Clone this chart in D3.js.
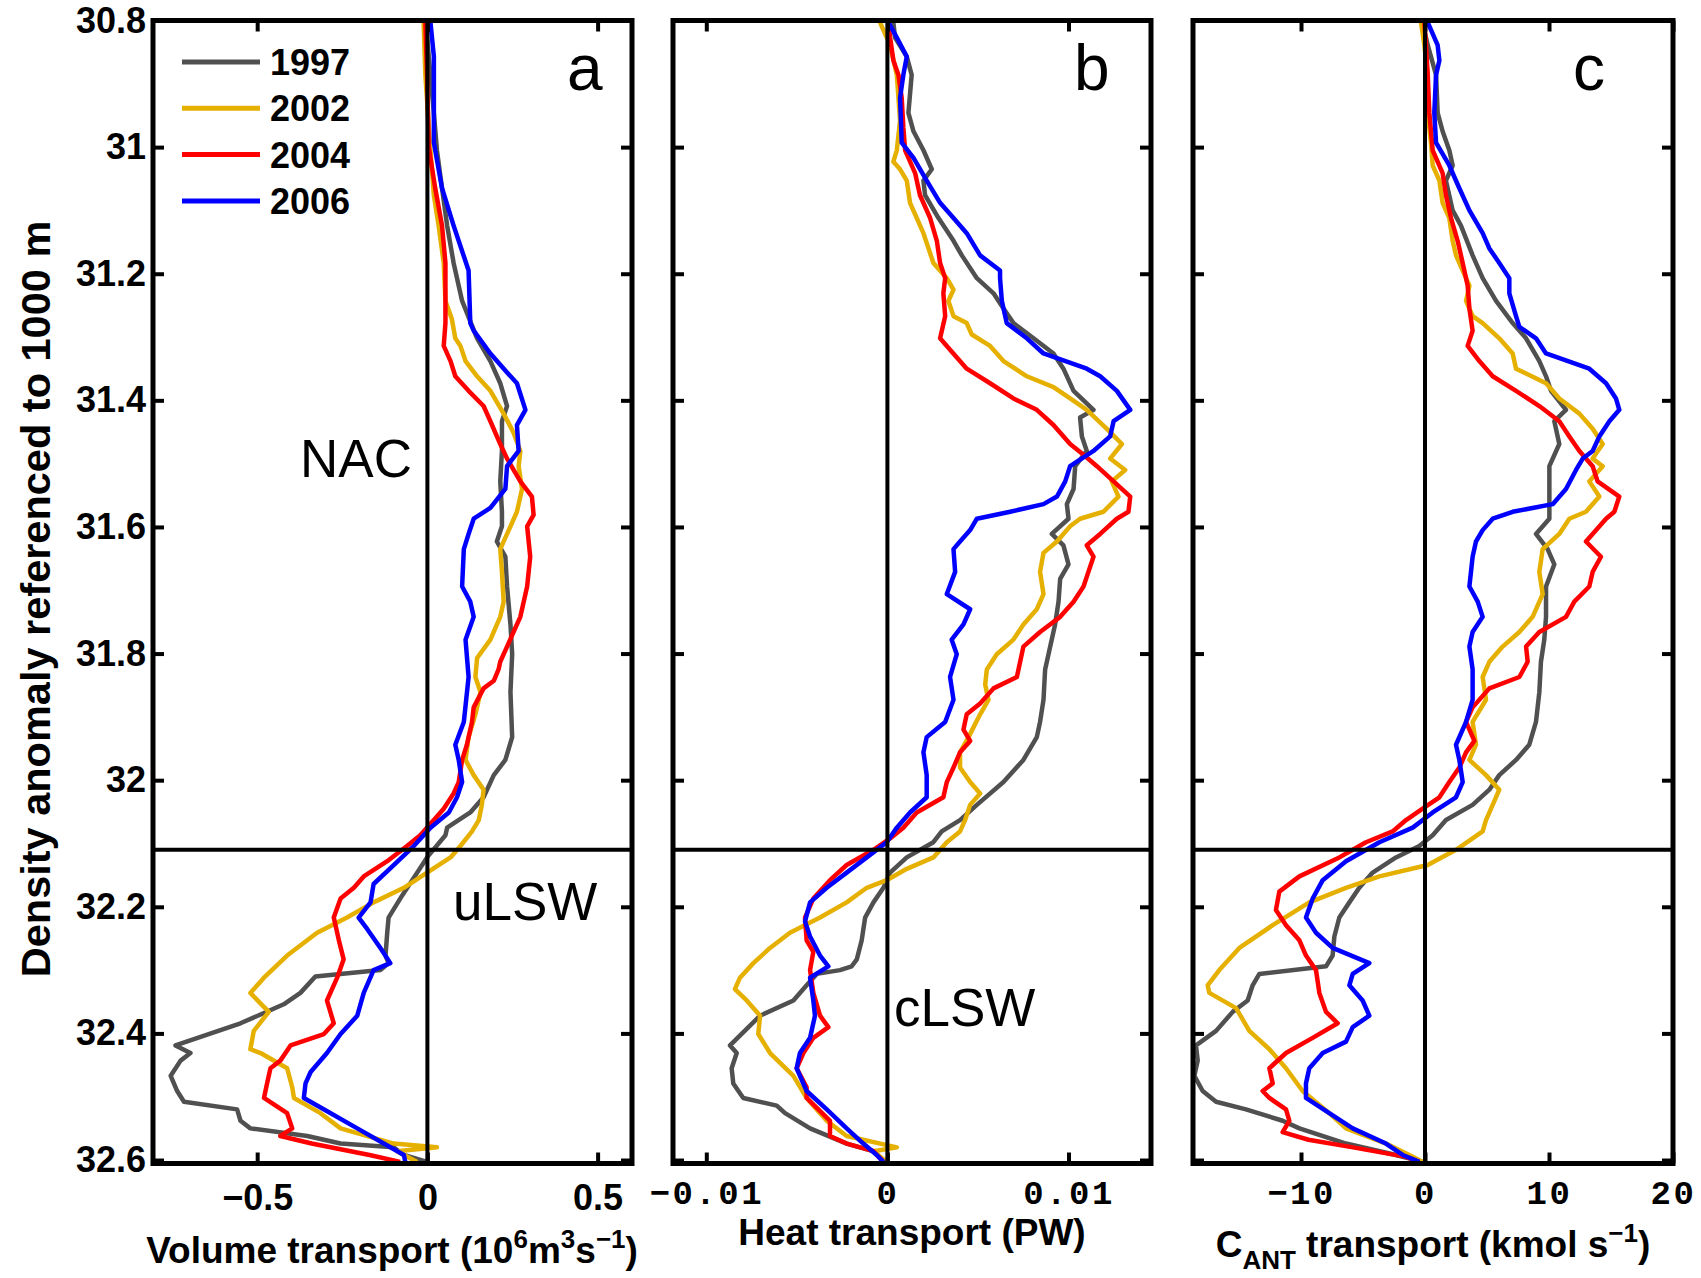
<!DOCTYPE html>
<html>
<head>
<meta charset="utf-8">
<script src="https://cdn.jsdelivr.net/npm/d3@7/dist/d3.min.js"></script>
<style>
	body { margin: 0; background: #fff; }
	svg text { font-family: "Liberation Sans", Arial, Helvetica, sans-serif; }
</style>
</head>
<body>
<div id="chart"></div>
<script>
var years = ["1997", "2002", "2004", "2006"];
var colors = ["#505050", "#e6b000", "#ff0000", "#0000ff"];

var densityTicks = [30.8, 31, 31.2, 31.4, 31.6, 31.8, 32, 32.2, 32.4, 32.6];
var volTicks = [-0.5, 0, 0.5];
var heatTicks = [-0.01, 0, 0.01];
var cantTicks = [-10, 0, 10, 20];
var boundary = 32.11; // NAC / LSW interface

// volume transport (Sv) : [density, transport]
var vol1997 = [[30.803,-0.005],[30.946,0.019],[31.005,0.028],[31.065,0.043],[31.124,0.058],[31.183,0.077],[31.243,0.102],[31.302,0.146],[31.338,0.185],[31.373,0.214],[31.409,0.234],[31.433,0.219],[31.480,0.219],[31.528,0.214],[31.576,0.219],[31.599,0.219],[31.623,0.204],[31.647,0.229],[31.694,0.234],[31.754,0.244],[31.801,0.249],[31.861,0.244],[31.932,0.249],[31.968,0.229],[31.992,0.195],[32.027,0.165],[32.051,0.126],[32.075,0.058],[32.087,0.053],[32.122,-0.001],[32.146,-0.030],[32.182,-0.074],[32.217,-0.114],[32.241,-0.118],[32.277,-0.123],[32.289,-0.114],[32.300,-0.138],[32.310,-0.329],[32.336,-0.373],[32.354,-0.422],[32.384,-0.549],[32.419,-0.740],[32.431,-0.696],[32.443,-0.725],[32.467,-0.754],[32.491,-0.735],[32.508,-0.715],[32.520,-0.559],[32.538,-0.549],[32.550,-0.520],[32.562,-0.353],[32.574,-0.255],[32.580,-0.099],[32.592,-0.069],[32.603,-0.001]];
var vol2002 = [[30.803,-0.011],[30.886,-0.006],[31.005,0.009],[31.076,0.019],[31.124,0.033],[31.183,0.048],[31.243,0.053],[31.272,0.072],[31.302,0.082],[31.314,0.097],[31.338,0.112],[31.362,0.146],[31.385,0.185],[31.421,0.224],[31.451,0.253],[31.480,0.273],[31.504,0.268],[31.540,0.278],[31.576,0.263],[31.599,0.244],[31.635,0.214],[31.671,0.219],[31.718,0.224],[31.742,0.214],[31.778,0.185],[31.807,0.146],[31.837,0.141],[31.861,0.156],[31.896,0.141],[31.932,0.121],[31.968,0.112],[31.992,0.136],[32.015,0.165],[32.039,0.160],[32.063,0.151],[32.081,0.131],[32.104,0.097],[32.122,0.068],[32.146,-0.001],[32.170,-0.069],[32.193,-0.158],[32.217,-0.236],[32.241,-0.324],[32.277,-0.412],[32.312,-0.480],[32.336,-0.520],[32.366,-0.466],[32.396,-0.510],[32.425,-0.520],[32.431,-0.490],[32.455,-0.412],[32.485,-0.397],[32.502,-0.392],[32.526,-0.314],[32.550,-0.255],[32.574,-0.099],[32.580,0.028],[32.586,-0.089],[32.603,-0.030]];
var vol2004 = [[30.803,-0.006],[30.886,-0.001],[30.999,0.004],[31.017,0.009],[31.065,0.023],[31.124,0.043],[31.183,0.053],[31.243,0.053],[31.278,0.053],[31.314,0.048],[31.338,0.068],[31.362,0.082],[31.385,0.121],[31.409,0.165],[31.433,0.185],[31.469,0.214],[31.492,0.234],[31.528,0.273],[31.552,0.307],[31.581,0.312],[31.599,0.293],[31.647,0.302],[31.694,0.293],[31.742,0.273],[31.766,0.253],[31.789,0.234],[31.813,0.214],[31.825,0.209],[31.843,0.195],[31.855,0.165],[31.885,0.136],[31.908,0.131],[31.944,0.116],[31.968,0.102],[32.003,0.092],[32.021,0.077],[32.045,0.048],[32.063,0.019],[32.087,-0.021],[32.104,-0.060],[32.128,-0.118],[32.152,-0.187],[32.170,-0.216],[32.187,-0.255],[32.217,-0.275],[32.253,-0.260],[32.283,-0.246],[32.312,-0.265],[32.348,-0.295],[32.384,-0.275],[32.401,-0.304],[32.419,-0.402],[32.443,-0.432],[32.455,-0.461],[32.479,-0.471],[32.502,-0.480],[32.526,-0.412],[32.550,-0.397],[32.562,-0.432],[32.574,-0.340],[32.592,-0.170],[32.603,-0.080]];
var vol2006 = [[30.803,0.009],[30.857,0.019],[30.993,0.019],[31.065,0.043],[31.124,0.077],[31.195,0.121],[31.278,0.126],[31.290,0.136],[31.326,0.185],[31.356,0.234],[31.373,0.263],[31.415,0.288],[31.439,0.263],[31.480,0.268],[31.504,0.234],[31.540,0.229],[31.570,0.185],[31.587,0.136],[31.611,0.121],[31.635,0.107],[31.694,0.102],[31.718,0.126],[31.742,0.136],[31.778,0.112],[31.837,0.121],[31.908,0.107],[31.944,0.082],[31.968,0.092],[32.003,0.102],[32.027,0.087],[32.051,0.063],[32.075,0.009],[32.104,-0.040],[32.134,-0.099],[32.164,-0.158],[32.193,-0.167],[32.217,-0.202],[32.235,-0.177],[32.265,-0.138],[32.289,-0.109],[32.300,-0.158],[32.336,-0.187],[32.372,-0.206],[32.401,-0.255],[32.431,-0.295],[32.461,-0.343],[32.479,-0.358],[32.502,-0.363],[32.514,-0.324],[32.550,-0.206],[32.574,-0.128],[32.592,-0.069],[32.603,-0.065]];

// heat transport (1e-3 PW) : [density, transport]
var heat1997 = [[30.803,0.33],[30.827,0.42],[30.857,1.07],[30.886,1.34],[30.946,1.16],[30.975,1.44],[31.005,1.99],[31.035,2.45],[31.053,1.99],[31.076,2.08],[31.112,2.82],[31.148,3.65],[31.171,4.11],[31.207,4.94],[31.231,5.86],[31.255,6.41],[31.278,6.96],[31.302,8.07],[31.326,9.17],[31.350,9.72],[31.385,10.28],[31.415,11.38],[31.427,10.64],[31.457,10.74],[31.480,11.01],[31.504,10.37],[31.540,10.28],[31.564,9.91],[31.587,10.00],[31.611,9.08],[31.629,9.72],[31.659,10.00],[31.682,9.54],[31.718,9.45],[31.754,9.26],[31.789,8.99],[31.825,8.71],[31.873,8.62],[31.908,8.43],[31.932,8.25],[31.968,7.51],[32.003,6.41],[32.039,4.94],[32.063,4.01],[32.081,3.00],[32.098,2.54],[32.122,1.07],[32.146,0.15],[32.170,-0.22],[32.193,-0.77],[32.217,-1.23],[32.253,-1.42],[32.283,-1.69],[32.294,-1.97],[32.300,-2.62],[32.306,-3.90],[32.324,-4.46],[32.348,-5.19],[32.372,-7.03],[32.419,-8.69],[32.431,-8.32],[32.455,-8.60],[32.479,-8.51],[32.502,-7.96],[32.514,-6.11],[32.526,-5.65],[32.550,-4.27],[32.574,-2.25],[32.586,-0.77],[32.603,-0.13]];
var heat2002 = [[30.803,-0.41],[30.839,0.15],[30.886,0.52],[30.922,0.61],[30.958,0.70],[31.005,0.52],[31.023,0.33],[31.035,0.70],[31.053,1.07],[31.088,1.25],[31.112,1.62],[31.136,1.99],[31.160,2.27],[31.183,2.54],[31.207,3.28],[31.225,3.65],[31.243,3.37],[31.267,3.65],[31.278,4.38],[31.296,4.66],[31.314,5.67],[31.338,6.41],[31.362,7.70],[31.379,9.17],[31.397,10.09],[31.415,11.01],[31.445,12.12],[31.469,12.95],[31.492,12.30],[31.510,13.13],[31.528,12.39],[31.552,12.76],[31.576,11.93],[31.587,10.64],[31.599,10.09],[31.623,9.36],[31.641,8.62],[31.671,8.43],[31.706,8.62],[31.730,8.25],[31.754,7.51],[31.778,6.96],[31.801,6.04],[31.825,5.49],[31.849,5.40],[31.873,5.58],[31.896,5.12],[31.932,4.48],[31.956,4.01],[31.980,4.01],[32.003,4.57],[32.021,5.12],[32.039,4.57],[32.063,4.29],[32.081,4.01],[32.098,3.28],[32.122,2.54],[32.140,1.07],[32.158,-0.04],[32.170,-1.14],[32.193,-2.25],[32.217,-3.72],[32.241,-5.38],[32.265,-6.48],[32.289,-7.40],[32.312,-8.14],[32.330,-8.42],[32.348,-7.77],[32.372,-7.03],[32.401,-7.13],[32.431,-6.48],[32.467,-5.19],[32.502,-4.46],[32.538,-3.35],[32.562,-2.25],[32.580,0.52],[32.586,-0.77],[32.603,-0.04]];
var heat2004 = [[30.803,0.06],[30.827,0.15],[30.863,0.33],[30.886,0.61],[30.922,0.79],[30.969,0.88],[31.005,0.98],[31.041,1.53],[31.076,1.80],[31.112,2.36],[31.148,2.73],[31.183,2.91],[31.207,3.19],[31.231,3.09],[31.267,3.19],[31.302,2.91],[31.320,3.46],[31.350,4.38],[31.373,5.67],[31.397,6.96],[31.415,8.25],[31.439,9.17],[31.469,10.09],[31.486,10.83],[31.504,11.57],[31.528,12.49],[31.552,13.41],[31.576,13.31],[31.587,12.67],[31.611,11.75],[31.629,11.01],[31.647,11.38],[31.671,11.10],[31.694,10.83],[31.718,10.28],[31.742,9.54],[31.766,8.43],[31.789,7.51],[31.813,7.33],[31.837,7.15],[31.855,5.86],[31.879,5.12],[31.896,4.38],[31.920,4.20],[31.938,4.57],[31.956,4.01],[31.980,3.65],[32.003,3.28],[32.027,3.09],[32.051,1.62],[32.075,0.88],[32.092,0.15],[32.110,-0.77],[32.134,-2.25],[32.158,-3.17],[32.187,-4.09],[32.217,-4.55],[32.253,-4.46],[32.271,-4.09],[32.300,-4.27],[32.336,-4.09],[32.372,-3.72],[32.390,-3.26],[32.407,-4.09],[32.431,-4.64],[32.455,-5.01],[32.485,-4.46],[32.502,-4.46],[32.538,-3.17],[32.562,-3.17],[32.574,-2.25],[32.586,-0.77],[32.603,-0.22]];
var heat2006 = [[30.803,0.06],[30.827,0.52],[30.857,1.07],[30.886,0.88],[30.922,0.70],[30.993,0.79],[31.017,1.44],[31.053,2.17],[31.088,2.91],[31.112,3.65],[31.136,4.38],[31.171,5.12],[31.195,6.22],[31.207,6.22],[31.243,6.32],[31.278,6.59],[31.302,7.70],[31.326,8.62],[31.350,11.01],[31.362,11.75],[31.385,12.67],[31.415,13.41],[31.433,12.49],[31.457,12.30],[31.480,11.38],[31.504,10.09],[31.528,9.82],[31.552,9.36],[31.564,8.62],[31.576,6.78],[31.587,4.94],[31.605,4.57],[31.623,4.01],[31.635,3.65],[31.671,3.74],[31.706,3.28],[31.730,4.57],[31.754,4.20],[31.778,3.55],[31.801,3.83],[31.837,3.46],[31.873,3.65],[31.908,3.19],[31.932,2.17],[31.956,1.99],[31.992,2.17],[32.027,2.17],[32.051,1.25],[32.075,0.52],[32.098,-0.04],[32.122,-1.14],[32.146,-2.25],[32.170,-3.35],[32.193,-4.27],[32.223,-4.55],[32.247,-4.27],[32.277,-3.72],[32.294,-3.26],[32.312,-4.27],[32.348,-4.09],[32.372,-4.00],[32.407,-4.27],[32.431,-4.83],[32.455,-5.01],[32.491,-4.46],[32.520,-3.35],[32.550,-2.25],[32.574,-1.33],[32.592,-0.59],[32.603,-0.22]];

// anthropogenic carbon transport (kmol/s) : [density, transport]
var cant1997 = [[30.803,-0.19],[30.839,0.22],[30.886,0.89],[30.946,1.02],[30.975,1.42],[31.005,1.96],[31.029,2.23],[31.053,1.69],[31.100,2.23],[31.124,2.90],[31.171,3.84],[31.207,4.65],[31.243,5.73],[31.278,7.07],[31.302,8.15],[31.338,9.22],[31.362,9.76],[31.385,10.16],[31.415,11.37],[31.433,10.43],[31.469,10.83],[31.504,10.03],[31.540,10.03],[31.587,10.03],[31.611,8.95],[31.635,9.89],[31.659,10.43],[31.694,9.76],[31.742,9.76],[31.778,9.62],[31.813,9.35],[31.861,9.22],[31.908,8.95],[31.944,8.41],[31.968,7.34],[31.992,5.99],[32.015,5.19],[32.039,3.84],[32.063,1.69],[32.087,0.62],[32.104,-0.46],[32.122,-2.34],[32.146,-4.22],[32.170,-5.30],[32.193,-6.10],[32.217,-6.91],[32.247,-7.31],[32.277,-7.45],[32.294,-7.98],[32.306,-13.36],[32.324,-13.90],[32.348,-14.30],[32.366,-15.51],[32.396,-16.85],[32.419,-18.47],[32.443,-18.33],[32.467,-18.60],[32.491,-17.93],[32.508,-16.85],[32.520,-14.44],[32.538,-11.48],[32.550,-10.13],[32.574,-6.37],[32.592,-2.34],[32.603,-0.19]];
var cant2002 = [[30.803,-0.32],[30.839,-0.05],[30.886,0.22],[30.946,0.22],[30.993,0.48],[31.029,0.62],[31.053,1.16],[31.088,1.42],[31.112,1.96],[31.148,2.23],[31.171,2.50],[31.195,3.04],[31.219,3.58],[31.243,3.31],[31.267,3.84],[31.278,4.65],[31.302,5.99],[31.326,7.07],[31.350,7.34],[31.373,9.76],[31.397,10.83],[31.421,12.45],[31.445,13.52],[31.469,14.33],[31.492,13.52],[31.504,14.33],[31.528,13.25],[31.552,14.06],[31.576,12.98],[31.587,11.64],[31.611,10.83],[31.635,9.49],[31.671,9.22],[31.706,9.49],[31.742,8.68],[31.766,7.61],[31.789,6.26],[31.813,5.19],[31.837,4.65],[31.873,4.92],[31.908,3.84],[31.944,4.11],[31.968,3.58],[31.992,4.92],[32.015,5.99],[32.039,5.46],[32.063,4.92],[32.081,4.65],[32.110,2.50],[32.134,0.22],[32.152,-3.68],[32.170,-6.37],[32.193,-9.33],[32.229,-12.28],[32.265,-14.97],[32.300,-16.59],[32.324,-17.53],[32.336,-17.39],[32.360,-15.24],[32.396,-14.17],[32.425,-12.55],[32.455,-11.21],[32.491,-9.87],[32.526,-7.72],[32.550,-6.37],[32.574,-3.15],[32.592,-1.26],[32.603,-0.19]];
var cant2004 = [[30.803,-0.05],[30.839,0.08],[30.886,0.22],[30.946,0.35],[31.005,0.62],[31.041,1.42],[31.076,1.69],[31.112,2.10],[31.148,2.63],[31.183,3.04],[31.219,3.44],[31.255,3.58],[31.290,3.84],[31.314,3.44],[31.338,4.38],[31.362,5.46],[31.385,7.34],[31.409,9.22],[31.433,10.83],[31.457,11.64],[31.480,12.45],[31.504,13.52],[31.528,13.92],[31.552,15.67],[31.576,15.27],[31.587,14.60],[31.611,13.52],[31.623,12.98],[31.647,14.19],[31.671,13.52],[31.694,13.25],[31.718,12.04],[31.742,11.37],[31.766,9.22],[31.789,8.15],[31.813,8.28],[31.837,7.61],[31.855,5.19],[31.885,3.84],[31.908,3.31],[31.938,3.98],[31.956,3.31],[31.980,2.77],[32.003,1.96],[32.027,1.16],[32.045,-0.19],[32.063,-1.53],[32.081,-2.61],[32.098,-4.76],[32.122,-6.91],[32.152,-10.13],[32.176,-11.75],[32.205,-12.02],[32.229,-11.21],[32.253,-10.13],[32.277,-9.60],[32.300,-8.79],[32.336,-8.52],[32.366,-7.98],[32.384,-7.04],[32.407,-9.06],[32.431,-11.21],[32.455,-12.55],[32.479,-12.28],[32.491,-13.09],[32.502,-12.55],[32.520,-11.21],[32.538,-10.94],[32.556,-11.48],[32.568,-9.40],[32.580,-5.80],[32.595,-1.53],[32.603,-0.46]];
var cant2006 = [[30.803,0.22],[30.839,1.02],[30.863,1.16],[30.886,0.89],[30.946,0.75],[30.993,0.89],[31.029,1.96],[31.065,2.77],[31.100,3.58],[31.136,4.65],[31.160,5.19],[31.183,5.99],[31.207,6.80],[31.231,6.80],[31.267,7.34],[31.284,7.61],[31.302,8.95],[31.326,9.76],[31.350,13.25],[31.373,14.60],[31.397,15.40],[31.415,15.67],[31.433,14.87],[31.457,14.06],[31.480,13.52],[31.492,12.72],[31.510,12.18],[31.540,11.37],[31.564,10.30],[31.576,7.07],[31.587,5.46],[31.605,4.65],[31.623,4.11],[31.647,3.84],[31.694,3.58],[31.718,4.25],[31.742,4.65],[31.766,3.84],[31.789,3.58],[31.825,3.84],[31.873,3.84],[31.908,3.31],[31.944,2.50],[31.968,2.77],[32.003,3.04],[32.027,2.50],[32.051,0.62],[32.075,-0.99],[32.098,-3.68],[32.128,-6.37],[32.158,-8.25],[32.187,-9.06],[32.217,-9.60],[32.241,-8.79],[32.265,-7.45],[32.289,-4.49],[32.306,-5.83],[32.324,-6.10],[32.348,-5.03],[32.372,-4.49],[32.390,-5.83],[32.413,-6.37],[32.431,-8.25],[32.455,-9.33],[32.479,-9.60],[32.502,-9.60],[32.526,-7.72],[32.550,-5.83],[32.574,-3.15],[32.592,-1.80],[32.603,-0.46]];

var W = 1701, H = 1278;
var boldFont = "'Liberation Sans', Arial, sans-serif";
var monoFont = "'Liberation Mono', 'Courier New', monospace";

var svg = d3.select("#chart").append("svg")
	.attr("width", W)
	.attr("height", H)
	.style("background", "#fff");

var y = d3.scaleLinear().domain([30.8, 32.6055]).range([20.5, 1163.5]);

var panels = [
	{id: "a", range: [153, 632], domain: [-0.806, 0.601], ticks: volTicks, series: [vol1997, vol2002, vol2004, vol2006],
		format: function(d) { return d == 0 ? "0" : (d < 0 ? "\u2212" : "") + Math.abs(d); }, font: boldFont, weight: "bold", size: 36, pad: 21, spacing: 0,
		letterX: 567, region: [{t: "NAC", x: 300, y: 477}, {t: "uLSW", x: 453, y: 920}]},
	{id: "b", range: [673, 1151], domain: [-0.011839, 0.014556], ticks: heatTicks, scale: 1000, series: [heat1997, heat2002, heat2004, heat2006],
		format: function(d) { return d == 0 ? "0" : (d < 0 ? "\u2212" : "") + Math.abs(d); }, font: monoFont, weight: "bold", size: 34, pad: 16, spacing: 2.5,
		letterX: 1074, region: [{t: "cLSW", x: 894, y: 1026}]},
	{id: "c", range: [1193, 1673], domain: [-18.71, 20], ticks: cantTicks, series: [cant1997, cant2002, cant2004, cant2006],
		format: function(d) { return d == 0 ? "0" : (d < 0 ? "\u2212" : "") + Math.abs(d); }, font: monoFont, weight: "bold", size: 34, pad: 16, spacing: 2.5,
		letterX: 1573, region: []}
];

function styleAxis(g, p, labels) {
	g.select(".domain").remove();
	g.selectAll(".tick line").attr("stroke", "#000").attr("stroke-width", 4);
	g.selectAll(".tick text")
		.attr("fill", "#000")
		.style("font-family", p.font)
		.style("font-weight", p.weight)
		.style("font-size", p.size + "px")
		.style("letter-spacing", (p.spacing || 0) + "px");
	if (!labels) g.selectAll(".tick text").remove();
}

function drawPanel(p, i) {
	var x = d3.scaleLinear().domain(p.domain).range(p.range);
	var k = p.scale || 1;
	var g = svg.append("g").attr("class", "panel panel-" + p.id);
	var line = d3.line()
		.x(function(d) { return x(d[1] / k); })
		.y(function(d) { return y(d[0]); });

	p.series.forEach(function(s, j) {
		g.append("path")
			.datum(s)
			.attr("d", line)
			.attr("fill", "none")
			.attr("stroke", colors[j])
			.attr("stroke-width", 4.5)
			.attr("stroke-linejoin", "round");
	});

	// zero line and layer boundary
	g.append("line")
		.attr("x1", x(0)).attr("x2", x(0))
		.attr("y1", y.range()[0]).attr("y2", y.range()[1])
		.attr("stroke", "#000").attr("stroke-width", 4);
	g.append("line")
		.attr("x1", p.range[0]).attr("x2", p.range[1])
		.attr("y1", y(boundary)).attr("y2", y(boundary))
		.attr("stroke", "#000").attr("stroke-width", 4);

	var top = y.range()[0], bottom = y.range()[1];
	g.append("g").attr("transform", "translate(0," + bottom + ")")
		.call(d3.axisBottom(x).tickValues(p.ticks).tickFormat(p.format).tickSize(-11).tickPadding(p.pad))
		.call(styleAxis, p, true);
	g.append("g").attr("transform", "translate(0," + top + ")")
		.call(d3.axisTop(x).tickValues(p.ticks).tickSize(-11))
		.call(styleAxis, p, false);

	var left = d3.axisLeft(y).tickValues(densityTicks).tickSize(-11).tickPadding(7)
		.tickFormat(function(d) { return d3.format("")(+d.toFixed(1)); });
	g.append("g").attr("transform", "translate(" + p.range[0] + ",0)")
		.call(left)
		.call(styleAxis, {font: boldFont, weight: "bold", size: 36}, i == 0);
	g.append("g").attr("transform", "translate(" + p.range[1] + ",0)")
		.call(d3.axisRight(y).tickValues(densityTicks).tickSize(-11))
		.call(styleAxis, p, false);

	g.append("rect")
		.attr("x", p.range[0]).attr("y", top)
		.attr("width", p.range[1] - p.range[0]).attr("height", bottom - top)
		.attr("fill", "none").attr("stroke", "#000").attr("stroke-width", 5);

	g.append("text")
		.attr("x", p.letterX).attr("y", 90)
		.style("font-size", "64px")
		.text(p.id);

	p.region.forEach(function(r) {
		g.append("text")
			.attr("x", r.x).attr("y", r.y)
			.style("font-size", "53px")
			.text(r.t);
	});
}

panels.forEach(drawPanel);

// axis titles
function title(cx, cy, parts) {
	var t = svg.append("text")
		.attr("x", cx).attr("y", cy)
		.attr("text-anchor", "middle")
		.style("font-weight", "bold")
		.style("font-size", "37px");
	var shift = 0;
	parts.forEach(function(pt) {
		var want = pt.sup ? -15 : (pt.sub ? 12 : 0);
		t.append("tspan")
			.attr("dy", want - shift)
			.style("font-size", (pt.sup || pt.sub) ? "26px" : null)
			.text(pt.t);
		shift = want;
	});
}

title(392, 1263, [{t: "Volume transport (10"}, {t: "6", sup: true}, {t: "m"}, {t: "3", sup: true}, {t: "s"}, {t: "\u22121", sup: true}, {t: ")"}]);
title(912, 1245, [{t: "Heat transport (PW)"}]);
title(1433, 1257, [{t: "C"}, {t: "ANT", sub: true}, {t: " transport (kmol s"}, {t: "\u22121", sup: true}, {t: ")"}]);

svg.append("text")
	.attr("transform", "translate(50,599) rotate(-90)")
	.attr("text-anchor", "middle")
	.style("font-weight", "bold")
	.style("font-size", "41.5px")
	.text("Density anomaly referenced to 1000 m");

// legend
var legend = svg.append("g").attr("class", "legend");
years.forEach(function(yr, j) {
	var ly = 62 + j * 46.3;
	legend.append("line")
		.attr("x1", 182).attr("x2", 260)
		.attr("y1", ly).attr("y2", ly)
		.attr("stroke", colors[j]).attr("stroke-width", 5);
	legend.append("text")
		.attr("x", 270).attr("y", ly).attr("dy", "0.36em")
		.style("font-weight", "bold")
		.style("font-size", "36px")
		.text(yr);
});
</script>
</body>
</html>
